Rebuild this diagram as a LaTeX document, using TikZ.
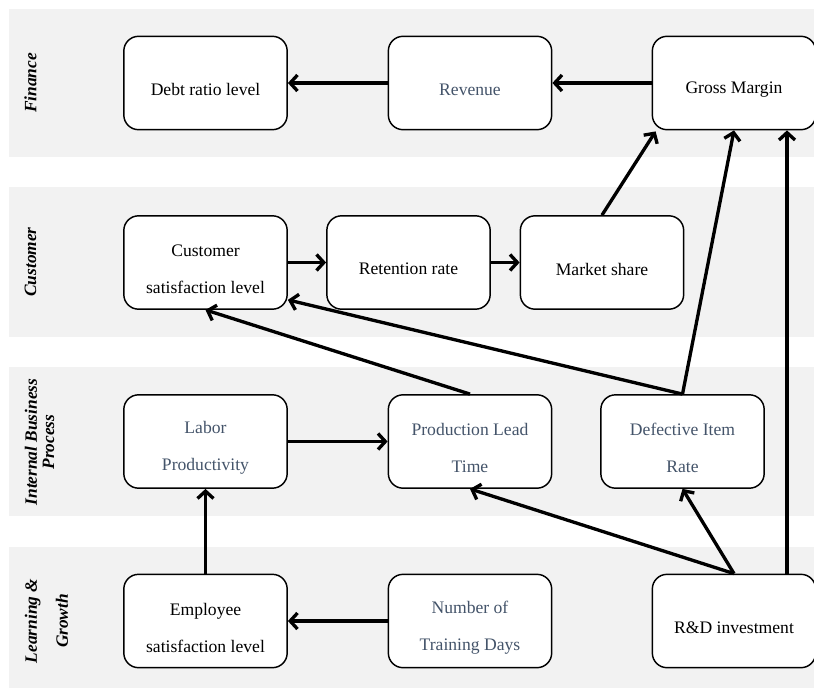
\documentclass[tikz,border=0pt]{standalone}
\usepackage{fontspec}
\setmainfont{Liberation Serif}
\usetikzlibrary{arrows.meta,calc}
\definecolor{bandgray}{HTML}{F2F2F2}
\definecolor{slate}{HTML}{44546A}
\begin{document}
\begin{tikzpicture}[x=0.75pt,y=-0.75pt,
  bandbox/.style={fill=bandgray,draw=none},
  kpi/.style={draw=black,line width=1.1pt,rounded corners=11pt,fill=white,
    minimum width=122.5pt,minimum height=70pt,inner sep=0pt},
  txtb/.style={font=\fontsize{13.2}{27.75}\selectfont,align=center,text=black,yshift=-5pt},
  txtg/.style={font=\fontsize{13.2}{27.75}\selectfont,align=center,text=slate,yshift=-5pt},
  lane/.style={rotate=90,align=center},
  arr/.style={line width=2.5pt,-{Straight Barb[length=5.5pt,width=12pt]}}
]
\useasboundingbox (0,0) rectangle (814,688);
% bands
\fill[bandbox] (9,9) rectangle (814,157);
\fill[bandbox] (9,187) rectangle (814,337);
\fill[bandbox] (9,367) rectangle (814,516);
\fill[bandbox] (9,547) rectangle (814,688);
% lane labels
\node[lane,font=\fontsize{13}{14}\bfseries\itshape] (lfin) at (30.5,83) {Finance};
\node[lane,font=\fontsize{13}{14}\bfseries\itshape] (lcus) at (30.5,262) {Customer};
\node[lane,font=\fontsize{13}{13}\bfseries\itshape] (lint) at (39.5,442) {Internal Business\\Process};
\node[lane,font=\fontsize{13}{23.25}\bfseries\itshape] (llg) at (46.5,621) {Learning \&\\Growth};
% boxes
\node[kpi,label={[txtb]center:Debt ratio level}] (debt) at (205.5,83) {};
\node[kpi,label={[txtg]center:Revenue}] (rev) at (470,83) {};
\node[kpi,label={[txtb]center:Gross Margin}] (gm) at (734,83) {};
\node[kpi,label={[txtb]center:{Customer\\satisfaction level}}] (cs) at (205.5,262.5) {};
\node[kpi,label={[txtb]center:Retention rate}] (ret) at (408.5,262.5) {};
\node[kpi,label={[txtb]center:Market share}] (ms) at (602,262.5) {};
\node[kpi,label={[txtg]center:{Labor\\Productivity}}] (lab) at (205.5,441.5) {};
\node[kpi,label={[txtg]center:{Production Lead\\Time}}] (plt) at (470,441.5) {};
\node[kpi,label={[txtg]center:{Defective Item\\Rate}}] (def) at (682.5,441.5) {};
\node[kpi,label={[txtb]center:{Employee\\satisfaction level}}] (emp) at (205.5,621) {};
\node[kpi,label={[txtg]center:{Number of\\Training Days}}] (ntd) at (470,621) {};
\node[kpi,label={[txtb]center:R\&D investment}] (rd) at (734,621) {};
% arrows
\draw[arr] (rev.west) -- (debt.east);
\draw[arr] (gm.west) -- (rev.east);
\draw[arr] (ms.north) -- ($(gm.south west)+(4,1)$);
\draw[arr] (def.north) -- (gm.south);
\draw[arr] ($(rd.north)+(53,0)$) -- ($(gm.south)+(53,0)$);
\draw[arr] (cs.east) -- (ret.west);
\draw[arr] (ret.east) -- (ms.west);
\draw[arr] (plt.north) -- (cs.south);
\draw[arr] (def.north) -- ($(cs.south east)+(0,-10)$);
\draw[arr] (lab.east) -- (plt.west);
\draw[arr] (emp.north) -- (lab.south);
\draw[arr] (ntd.west) -- (emp.east);
\draw[arr] (rd.north) -- (plt.south);
\draw[arr] (rd.north) -- (def.south);
\end{tikzpicture}
\end{document}
